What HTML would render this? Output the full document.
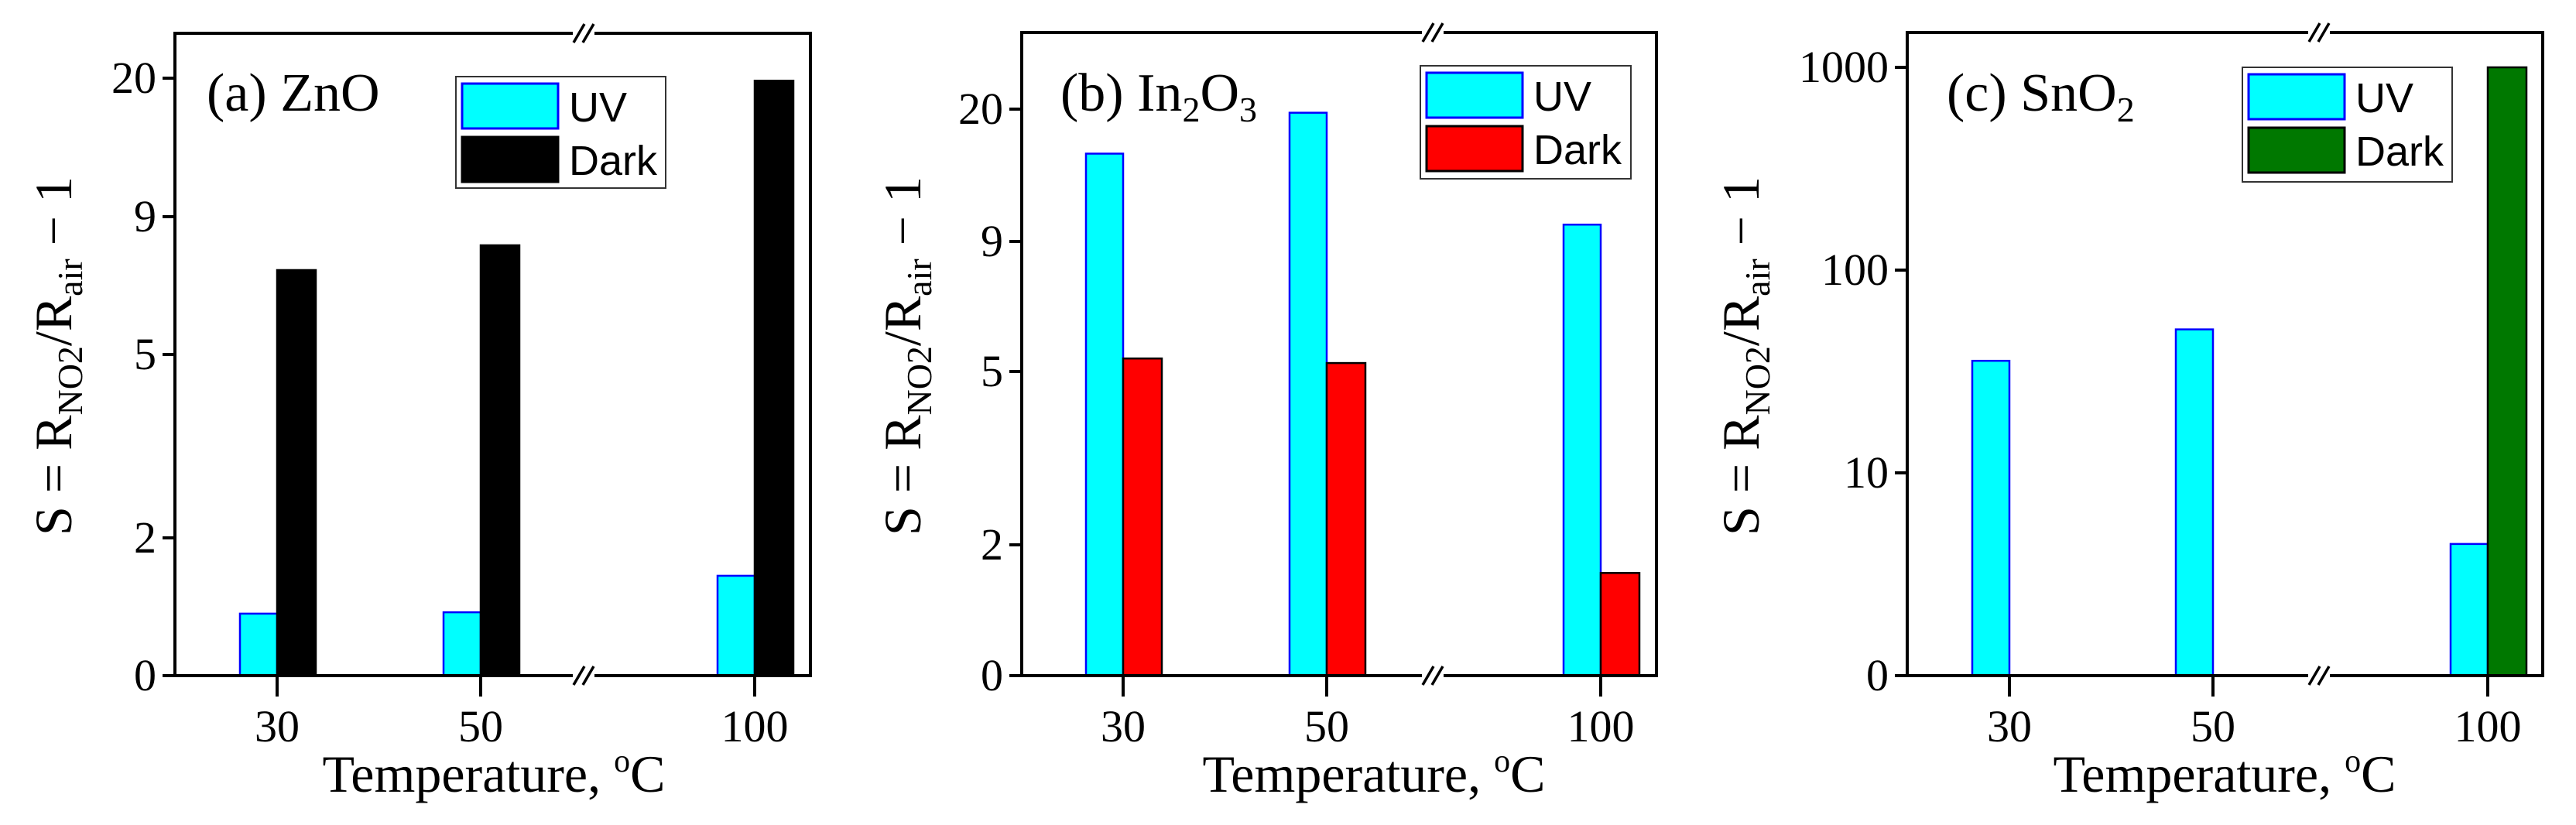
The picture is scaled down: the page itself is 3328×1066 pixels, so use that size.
<!DOCTYPE html>
<html><head><meta charset="utf-8"><style>
html,body{margin:0;padding:0;background:#fff;}
svg{display:block;}
</style></head><body>
<svg id="chart" width="3328" height="1066" viewBox="0 0 3328 1066" xmlns="http://www.w3.org/2000/svg" font-family="'Liberation Serif', serif"></svg>
<script>
const categories = ["30","50","100"];
const zno_uv = [0.9, 0.92, 1.45];
const zno_dark = [7.45, 8.17, 19.8];
const in2o3_uv = [16.3, 19.7, 10.4];
const in2o3_dark = [5.4, 5.26, 1.57];
const sno2_uv = [35.7, 51, 4.46];
const sno2_dark = [null, null, 1000];
const ticks_a = ["0","2","5","9","20"];
const ticks_b = ["0","2","5","9","20"];
const ticks_c = ["0","10","100","1000"];

const NS="http://www.w3.org/2000/svg";
const SERIF="'Liberation Serif', serif";
const SANS="'Liberation Sans', sans-serif";
const svg=document.getElementById('chart');
function mk(tag,attrs,parent){const e=document.createElementNS(NS,tag);for(const k in attrs)e.setAttribute(k,attrs[k]);(parent||svg).appendChild(e);return e;}

const panels=[
 {id:'a',L:226,R:1047,T:43,B:873,xt:[358,621,975],tickVals:[0,2,5,9,20],tickPx:[873,695,458,280,101],ticks:ticks_a,log:false,
  uv:zno_uv,dark:zno_dark,darkCol:'#000000',brk:754,leg:[589,99,271,144],title:'ZnO',tag:'(a)',tx:267,ytx:70,xtc:638},
 {id:'b',L:1320,R:2140,T:42,B:873,xt:[1451,1714,2068],tickVals:[0,2,5,9,20],tickPx:[873,704,480,312,141],ticks:ticks_b,log:false,
  uv:in2o3_uv,dark:in2o3_dark,darkCol:'#ff0000',brk:1851,leg:[1835,85,272,146],title:'In2O3',tag:'(b)',tx:1370,ytx:1167,xtc:1775},
 {id:'c',L:2464,R:3285,T:42,B:873,xt:[2596,2859,3214],tickVals:[1,10,100,1000],ticks:ticks_c,log:true,
  uv:sno2_uv,dark:sno2_dark,darkCol:'#007800',brk:2996,leg:[2897,87,271,148],title:'SnO2',tag:'(c)',tx:2515,ytx:2250,xtc:2874}
];

function yScale(p,v){
  if(p.log){const dec=262;return p.B-Math.log10(Math.max(v,1))*dec;}
  const tv=p.tickVals,tp=p.tickPx;
  for(let i=0;i<tv.length-1;i++){if(v<=tv[i+1]||i===tv.length-2){return tp[i]+(v-tv[i])/(tv[i+1]-tv[i])*(tp[i+1]-tp[i]);}}
}
function ytickPos(p,i){return p.log? yScale(p,p.tickVals[i]) : p.tickPx[i];}

panels.forEach(p=>{
  const g=mk('g',{});
  
  
  const bw=48;
  categories.forEach((c,i)=>{
    const x=p.xt[i];
    if(p.uv[i]!=null){const y=yScale(p,p.uv[i]);
      const r=mk('rect',{x:x-bw,y:y,width:bw,height:p.B-y,fill:'#00ffff',stroke:'#0000ff','stroke-width':2.5},g);
      
      }
    if(p.dark[i]!=null){const y=yScale(p,p.dark[i]);
      const r=mk('rect',{x:x,y:y,width:bw+2,height:p.B-y,fill:p.darkCol,stroke:'#000','stroke-width':2.5},g);
      
      }
  });
  const f=mk('rect',{x:p.L,y:p.T,width:p.R-p.L,height:p.B-p.T,fill:'none',stroke:'#000','stroke-width':4},g);
  
  
  [p.T,p.B].forEach(yy=>{
    mk('rect',{x:p.brk-14,y:yy-4,width:28,height:8,fill:'#fff'},g);
    [-6,6].forEach(d=>mk('line',{x1:p.brk+d-7,y1:yy+12,x2:p.brk+d+7,y2:yy-12,stroke:'#000','stroke-width':3.5},g));
  });
  p.ticks.forEach((t,i)=>{
    const y=ytickPos(p,i);
    mk('line',{x1:p.L-16,y1:y,x2:p.L,y2:y,stroke:'#000','stroke-width':4},g);
    const tx=mk('text',{x:p.L-24,y:y+19,'font-size':58,'text-anchor':'end','font-family':SERIF},g);
    tx.textContent=t;
    
    
  });
  categories.forEach((c,i)=>{
    mk('line',{x1:p.xt[i],y1:p.B,x2:p.xt[i],y2:p.B+27,stroke:'#000','stroke-width':4},g);
    const tx=mk('text',{x:p.xt[i],y:958,'font-size':58,'text-anchor':'middle','font-family':SERIF},g);
    tx.textContent=c;
    
    
  });
  const xt=mk('text',{x:p.xtc,y:1023,'font-size':68,'text-anchor':'middle','font-family':SERIF},g);
  xt.innerHTML='Temperature, <tspan dy="-26" font-size="42">o</tspan><tspan dy="26">C</tspan>';
  
  
  const yt=mk('text',{x:0,y:0,'font-size':68,'text-anchor':'middle','font-family':SERIF,transform:`translate(${p.ytx+22},460) rotate(-90)`},g);
  yt.innerHTML='S = R<tspan dy="14" font-size="46">NO2</tspan><tspan dy="-14">/R</tspan><tspan dy="14" font-size="46">air</tspan><tspan dy="-14"> − 1</tspan>';
  
  
  const tt=mk('text',{x:p.tx,y:143,'font-size':70,'font-family':SERIF,'xml:space':'preserve'},g);
  if(p.title==='In2O3') tt.innerHTML='(b)  In<tspan dy="14" font-size="46">2</tspan><tspan dy="-14">O</tspan><tspan dy="14" font-size="46">3</tspan>';
  else if(p.title==='SnO2') tt.innerHTML='(c)  SnO<tspan dy="14" font-size="46">2</tspan>';
  else tt.textContent=p.tag+'  '+p.title;
  
  
  const [lx,ly,lw,lh]=p.leg;
  const lg=mk('g',{},g);
  
  
  mk('rect',{x:lx,y:ly,width:lw,height:lh,fill:'#fff',stroke:'#333','stroke-width':2},lg);
  const sw=124, sh=58;
  const e1=mk('rect',{x:lx+8,y:ly+9,width:sw,height:sh,fill:'#00ffff',stroke:'#0000ff','stroke-width':3},lg);
  
  
  const e2=mk('rect',{x:lx+8,y:ly+78,width:sw,height:sh,fill:p.darkCol,stroke:'#000','stroke-width':3},lg);
  
  
  const t1=mk('text',{x:lx+sw+22,y:ly+58,'font-size':54,'font-family':SANS},lg); t1.textContent='UV';
  const t2=mk('text',{x:lx+sw+22,y:ly+127,'font-size':54,'font-family':SANS},lg); t2.textContent='Dark';
});
</script>
</body></html>
